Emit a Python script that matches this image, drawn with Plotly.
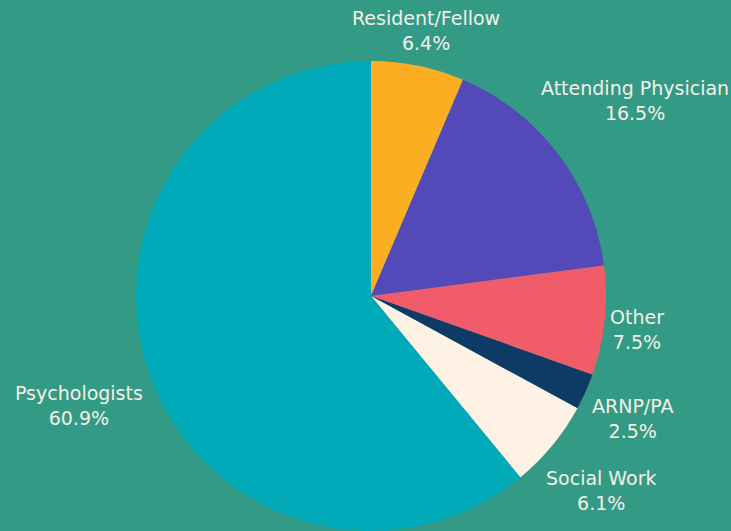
import math
import plotly.graph_objects as go

labels = ["Resident/Fellow", "Attending Physician", "Other", "ARNP/PA", "Social Work", "Psychologists"]
values = [6.4, 16.5, 7.5, 2.5, 6.1, 60.9]
colors = ["#FBAE22", "#5349B9", "#F05C6A", "#0E3A66", "#FDF2E3", "#00AAB9"]

W, H = 731, 531
ML, MT = 11, 61
FONT = dict(family="DejaVu Sans", size=19, color="#F3F0E6")

fig = go.Figure(go.Pie(
    labels=labels,
    values=values,
    sort=False,
    direction="clockwise",
    rotation=0,
    marker=dict(colors=colors, line=dict(width=0)),
    textinfo="none",
    hoverinfo="label+value",
    showlegend=False,
))

# Outside labels placed along each slice's mid-angle ray
pw, ph = W - ML, H - MT
cx, cy = ML + pw / 2, MT + ph / 2
r = min(pw, ph) / 2
total = sum(values)
gap, half_h, charw, drop = 3, 22, 10.4, 5
cum = 0.0
annotations = []
for lab, v in zip(labels, values):
    mid = (cum + v / 2) / total * 2 * math.pi
    cum += v
    ux, uy = math.sin(mid), math.cos(mid)
    txt2 = f"{v:.1f}%"
    units = max(sum(1.25 if c.isupper() else 1.0 for c in s) for s in (lab, txt2))
    half_w = units * charw / 2
    d = r + gap + half_w * abs(ux) + half_h * abs(uy)
    px, py = cx + d * ux, cy - d * uy + drop
    annotations.append(dict(
        x=(px - ML) / pw, y=(H - py) / ph, xref="paper", yref="paper",
        text=f"{lab}<br>{txt2}", showarrow=False,
        xanchor="center", yanchor="middle", align="center", font=FONT,
    ))

fig.update_layout(
    width=W, height=H,
    paper_bgcolor="#339B85",
    plot_bgcolor="#339B85",
    margin=dict(l=ML, r=0, t=MT, b=0),
    annotations=annotations,
)

fig.write_html(
    "out.html",
    config={"displayModeBar": False},
    post_script="document.body.style.margin='0';document.body.style.overflow='hidden';",
)
